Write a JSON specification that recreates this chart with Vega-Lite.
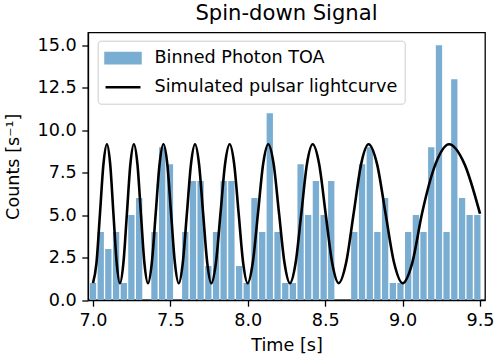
{
  "$schema": "https://vega.github.io/schema/vega-lite/v6.json",
  "autosize": {"type": "none"},
  "padding": {"left": 88, "top": 32.5, "right": 14, "bottom": 59},
  "width": 397,
  "height": 267.5,
  "background": "white",
  "config": {
    "font": "DejaVu Sans",
    "view": {"stroke": "black", "strokeWidth": 1.3},
    "axis": {
      "grid": false,
      "domainColor": "black",
      "domainWidth": 1.3,
      "tickColor": "black",
      "tickWidth": 1.3,
      "tickSize": 6.2,
      "labelFontSize": 17.6,
      "labelColor": "black",
      "labelFont": "DejaVu Sans",
      "titleFont": "DejaVu Sans",
      "titleFontSize": 17.6,
      "titleFontWeight": "normal",
      "titleColor": "black",
      "labelPadding": 5.5,
      "labelFlush": false,
      "labelOverlap": false
    },
    "title": {"font": "DejaVu Sans", "fontSize": 21.1, "fontWeight": "normal", "color": "black"}
  },
  "title": {"text": "Spin-down Signal", "anchor": "middle", "frame": "group", "baseline": "bottom", "offset": 7, "dy": 20},
  "datasets": {
    "bins": [
      {"t": 7.000, "counts": 1}, {"t": 7.050, "counts": 4}, {"t": 7.099, "counts": 3}, {"t": 7.149, "counts": 4},
      {"t": 7.199, "counts": 1}, {"t": 7.248, "counts": 5}, {"t": 7.298, "counts": 6}, {"t": 7.348, "counts": 0},
      {"t": 7.397, "counts": 4}, {"t": 7.447, "counts": 9}, {"t": 7.497, "counts": 8}, {"t": 7.546, "counts": 0},
      {"t": 7.596, "counts": 4}, {"t": 7.646, "counts": 7}, {"t": 7.695, "counts": 7}, {"t": 7.745, "counts": 2},
      {"t": 7.795, "counts": 4}, {"t": 7.844, "counts": 7}, {"t": 7.894, "counts": 7}, {"t": 7.944, "counts": 2},
      {"t": 7.993, "counts": 1}, {"t": 8.043, "counts": 6}, {"t": 8.093, "counts": 4}, {"t": 8.142, "counts": 11},
      {"t": 8.192, "counts": 4}, {"t": 8.242, "counts": 1}, {"t": 8.291, "counts": 1}, {"t": 8.341, "counts": 8},
      {"t": 8.390, "counts": 5}, {"t": 8.440, "counts": 7}, {"t": 8.490, "counts": 5}, {"t": 8.539, "counts": 7},
      {"t": 8.589, "counts": 0}, {"t": 8.639, "counts": 0}, {"t": 8.688, "counts": 4}, {"t": 8.738, "counts": 8},
      {"t": 8.788, "counts": 9}, {"t": 8.837, "counts": 4}, {"t": 8.887, "counts": 6}, {"t": 8.937, "counts": 1},
      {"t": 8.986, "counts": 1}, {"t": 9.036, "counts": 4}, {"t": 9.086, "counts": 5}, {"t": 9.135, "counts": 4},
      {"t": 9.185, "counts": 9}, {"t": 9.235, "counts": 15}, {"t": 9.284, "counts": 4}, {"t": 9.334, "counts": 13},
      {"t": 9.384, "counts": 6}, {"t": 9.433, "counts": 5}, {"t": 9.483, "counts": 5}
    ],
    "curve": [
      {"t": 7.000, "rate": 0.99}, {"t": 7.0225, "rate": 2.19}, {"t": 7.045, "rate": 5.08}, {"t": 7.0675, "rate": 8.0},
      {"t": 7.090, "rate": 9.17}, {"t": 7.111, "rate": 8.0}, {"t": 7.132, "rate": 5.08}, {"t": 7.153, "rate": 2.19},
      {"t": 7.174, "rate": 0.99}, {"t": 7.1965, "rate": 2.19}, {"t": 7.219, "rate": 5.08}, {"t": 7.2415, "rate": 8.0},
      {"t": 7.264, "rate": 9.17}, {"t": 7.287, "rate": 8.0}, {"t": 7.3095, "rate": 5.08}, {"t": 7.332, "rate": 2.19},
      {"t": 7.355, "rate": 0.99}, {"t": 7.380, "rate": 2.19}, {"t": 7.405, "rate": 5.08}, {"t": 7.430, "rate": 8.0},
      {"t": 7.455, "rate": 9.17}, {"t": 7.480, "rate": 8.0}, {"t": 7.5045, "rate": 5.08}, {"t": 7.529, "rate": 2.19},
      {"t": 7.554, "rate": 0.99}, {"t": 7.580, "rate": 2.19}, {"t": 7.6065, "rate": 5.08}, {"t": 7.633, "rate": 8.0},
      {"t": 7.659, "rate": 9.17}, {"t": 7.685, "rate": 8.0}, {"t": 7.7115, "rate": 5.08}, {"t": 7.738, "rate": 2.19},
      {"t": 7.764, "rate": 0.99}, {"t": 7.794, "rate": 2.19}, {"t": 7.8235, "rate": 5.08}, {"t": 7.853, "rate": 8.0},
      {"t": 7.883, "rate": 9.17}, {"t": 7.912, "rate": 8.0}, {"t": 7.941, "rate": 5.08}, {"t": 7.970, "rate": 2.19},
      {"t": 7.999, "rate": 0.99}, {"t": 8.032, "rate": 2.19}, {"t": 8.0655, "rate": 5.08}, {"t": 8.099, "rate": 8.0},
      {"t": 8.132, "rate": 9.17}, {"t": 8.167, "rate": 8.0}, {"t": 8.202, "rate": 5.08}, {"t": 8.237, "rate": 2.19},
      {"t": 8.272, "rate": 0.99}, {"t": 8.309, "rate": 2.19}, {"t": 8.3455, "rate": 5.08}, {"t": 8.382, "rate": 8.0},
      {"t": 8.419, "rate": 9.17}, {"t": 8.461, "rate": 8.0}, {"t": 8.503, "rate": 5.08}, {"t": 8.545, "rate": 2.19},
      {"t": 8.587, "rate": 0.99}, {"t": 8.635, "rate": 2.19}, {"t": 8.6835, "rate": 5.08}, {"t": 8.732, "rate": 8.0},
      {"t": 8.780, "rate": 9.17}, {"t": 8.835, "rate": 8.0}, {"t": 8.890, "rate": 5.08}, {"t": 8.945, "rate": 2.19},
      {"t": 9.000, "rate": 0.99}, {"t": 9.0625, "rate": 2.19}, {"t": 9.125, "rate": 5.08}, {"t": 9.2125, "rate": 8.0},
      {"t": 9.300, "rate": 9.17}, {"t": 9.400, "rate": 8.0}, {"t": 9.500, "rate": 5.08}
    ]
  },
  "layer": [
    {
      "data": {"name": "bins"},
      "mark": {"type": "bar", "width": 6.3, "clip": true, "color": "#79add2"},
      "encoding": {
        "x": {
          "field": "t", "type": "quantitative",
          "scale": {"domain": [7.0, 9.5], "nice": false, "zero": false},
          "axis": {"title": "Time [s]", "values": [7.0, 7.5, 8.0, 8.5, 9.0, 9.5], "format": ".1f", "titlePadding": 7}
        },
        "y": {
          "field": "counts", "type": "quantitative",
          "scale": {"domain": [0, 15.75], "nice": false},
          "axis": {"title": "Counts [s⁻¹]", "values": [0, 2.5, 5, 7.5, 10, 12.5, 15], "format": ".1f", "titlePadding": 15}
        },
        "color": {
          "datum": "Binned Photon TOA",
          "type": "nominal",
          "scale": {"domain": ["Binned Photon TOA", "Simulated pulsar lightcurve"], "range": ["#79add2", "black"]},
          "legend": {
            "title": null,
            "orient": "none",
            "legendX": 9.7,
            "legendY": 8.2,
            "labelFontSize": 17.6,
            "labelColor": "black",
            "labelFont": "DejaVu Sans",
            "labelLimit": 400,
            "symbolSize": 324,
            "symbolOffset": 7.8,
            "labelOffset": 21,
            "rowPadding": 8,
            "padding": 7,
            "strokeColor": "#cccccc",
            "fillColor": "white",
            "cornerRadius": 3,
            "encode": {
              "symbols": {
                "update": {
                  "shape": {"signal": "datum.value === 'Binned Photon TOA' ? 'M-1.94,-0.56H1.94V0.56H-1.94Z' : 'M-1.94,0H1.94'"},
                  "fill": {"signal": "datum.value === 'Binned Photon TOA' ? '#79add2' : 'transparent'"},
                  "stroke": {"signal": "datum.value === 'Binned Photon TOA' ? 'transparent' : 'black'"},
                  "strokeWidth": {"value": 2.6},
                  "opacity": {"value": 1}
                }
              }
            }
          }
        }
      }
    },
    {
      "data": {"name": "curve"},
      "mark": {"type": "line", "interpolate": "monotone", "strokeWidth": 2.6, "clip": true},
      "encoding": {
        "x": {"field": "t", "type": "quantitative"},
        "y": {"field": "rate", "type": "quantitative"},
        "color": {"datum": "Simulated pulsar lightcurve", "type": "nominal"}
      }
    }
  ]
}
